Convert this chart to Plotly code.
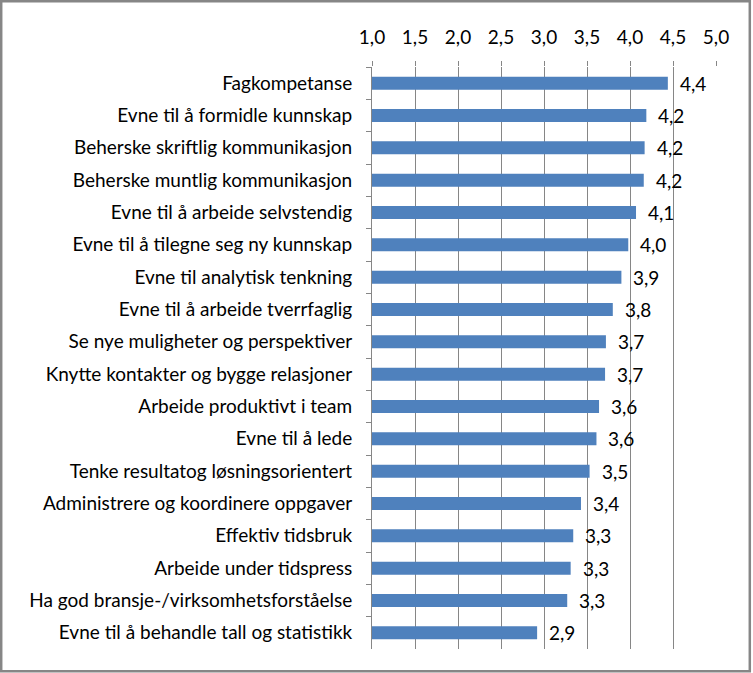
import plotly.graph_objects as go

categories = [
    "Fagkompetanse",
    "Evne til å formidle kunnskap",
    "Beherske skriftlig kommunikasjon",
    "Beherske muntlig kommunikasjon",
    "Evne til å arbeide selvstendig",
    "Evne til å tilegne seg ny kunnskap",
    "Evne til analytisk tenkning",
    "Evne til å arbeide tverrfaglig",
    "Se nye muligheter og perspektiver",
    "Knytte kontakter og bygge relasjoner",
    "Arbeide produktivt i team",
    "Evne til å lede",
    "Tenke resultatog løsningsorientert",
    "Administrere og koordinere oppgaver",
    "Effektiv tidsbruk",
    "Arbeide under tidspress",
    "Ha god bransje-/virksomhetsforståelse",
    "Evne til å behandle tall og statistikk",
]
values = [4.44, 4.19, 4.17, 4.16, 4.07, 3.98, 3.90, 3.80, 3.72, 3.71,
          3.64, 3.61, 3.53, 3.43, 3.34, 3.31, 3.27, 2.92]
tick_values = [1.0, 1.5, 2.0, 2.5, 3.0, 3.5, 4.0, 4.5, 5.0]

value_labels = [f"{v:.1f}".replace(".", ",") for v in values]

FONT = "Lato"
FS = 19
GRAY = "#868686"

fig = go.Figure()
fig.add_trace(go.Bar(
    y=categories, x=values, orientation="h",
    marker=dict(color="#4F81BD", line=dict(width=0)),
    hoverinfo="skip",
))

for c, v, t in zip(categories, values, value_labels):
    fig.add_annotation(x=v, y=c, text=t, showarrow=False, xanchor="left",
                       xshift=10, font=dict(family=FONT, size=FS, color="black"))

W, H = 753, 673
L, R, T, B = 372, 37, 67, 24
pw, ph = W - L - R, H - T - B

def px_x(p):
    return (p - L) / pw

def px_y(p):
    return (H - B - p) / ph

fig.add_shape(type="rect", xref="paper", yref="paper",
              x0=px_x(1.2), x1=px_x(749.8), y0=px_y(671.3), y1=px_y(1.2),
              line=dict(color=GRAY, width=2.5), fillcolor="rgba(0,0,0,0)")

fig.update_layout(
    width=W, height=H,
    margin=dict(l=L, r=R, t=T, b=B, pad=0),
    paper_bgcolor="white", plot_bgcolor="white",
    separators=",.",
    bargap=0.6,
    showlegend=False,
    font=dict(family=FONT, size=FS, color="black"),
    xaxis=dict(
        side="top", range=[1, 5], tickvals=tick_values, tickformat=".1f",
        showgrid=True, gridcolor=GRAY, gridwidth=1,
        ticks="outside", ticklen=5, tickcolor=GRAY, tickwidth=1,
        showline=False, zeroline=False, ticklabelstandoff=9,
    ),
    yaxis=dict(
        categoryorder="array", categoryarray=categories, autorange="reversed",
        showgrid=False, showline=True, linecolor=GRAY, linewidth=1,
        ticks="outside", ticklen=5, tickcolor=GRAY, tickwidth=1,
        tickson="boundaries", ticklabelstandoff=15,
    ),
)

fig.write_html("out.html", config={"displayModeBar": False},
               post_script="document.body.style.margin='0';document.body.style.padding='0';")
